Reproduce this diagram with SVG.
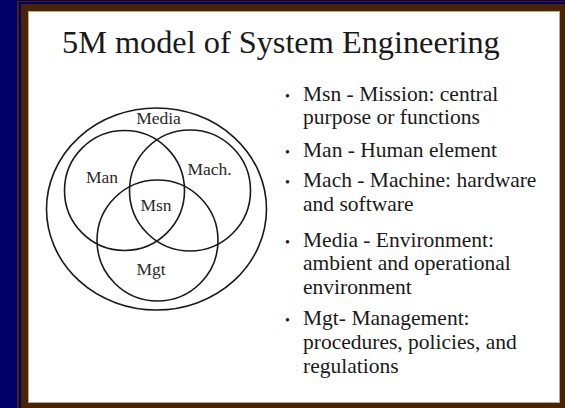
<svg xmlns="http://www.w3.org/2000/svg" width="565" height="408" viewBox="0 0 565 408">
<style>
text{font-family:"Liberation Serif","Times New Roman",serif;fill:#1a1a1a}
.lbl{font-size:17.5px;text-anchor:middle;fill:#2a2a2a}
.b{font-size:21.5px}
.dot{font-size:14px}
.c{fill:none;stroke:#1a1a1a;stroke-width:1.6}
</style>
<rect x="0" y="0" width="565" height="408" fill="#000066"/>
<rect x="17" y="1" width="548" height="407" fill="#4a2400"/>
<path d="M20 408 V3 H565" fill="none" stroke="#000066" stroke-width="2"/>
<rect x="28.5" y="11.5" width="531" height="391" fill="#ffffff" stroke="#b8a898" stroke-width="1"/>
<text x="62" y="53" style="font-size:32.3px">5M model of System Engineering</text>
<g id="venn">
<g id="media"><ellipse class="c" cx="156.5" cy="209" rx="110" ry="101"/><text class="lbl" x="158.5" y="124">Media</text></g>
<g id="man"><circle class="c" cx="124.5" cy="190.5" r="60"/><text class="lbl" x="102" y="183">Man</text></g>
<g id="mach"><circle class="c" cx="190" cy="190.5" r="60.5"/><text class="lbl" x="209.5" y="175">Mach.</text></g>
<g id="mgt"><circle class="c" cx="157.5" cy="240.5" r="60.5"/><text class="lbl" x="151" y="275">Mgt</text></g>
<g id="msn"><text class="lbl" x="156" y="211">Msn</text></g>
</g>
<g id="bullets">
<text class="dot" x="285" y="100.5">•</text><text class="b" x="303" y="100.5">Msn - Mission: central</text>
<text class="b" x="303" y="124">purpose or functions</text>
<text class="dot" x="285" y="156.5">•</text><text class="b" x="303" y="156.5">Man - Human element</text>
<text class="dot" x="285" y="186.5">•</text><text class="b" x="303" y="186.5">Mach - Machine: hardware</text>
<text class="b" x="303" y="211">and software</text>
<text class="dot" x="285" y="246.5">•</text><text class="b" x="303" y="246.5">Media - Environment:</text>
<text class="b" x="303" y="270">ambient and operational</text>
<text class="b" x="303" y="294">environment</text>
<text class="dot" x="285" y="325">•</text><text class="b" x="303" y="325">Mgt- Management:</text>
<text class="b" x="303" y="349">procedures, policies, and</text>
<text class="b" x="303" y="373">regulations</text>
</g>
</svg>
